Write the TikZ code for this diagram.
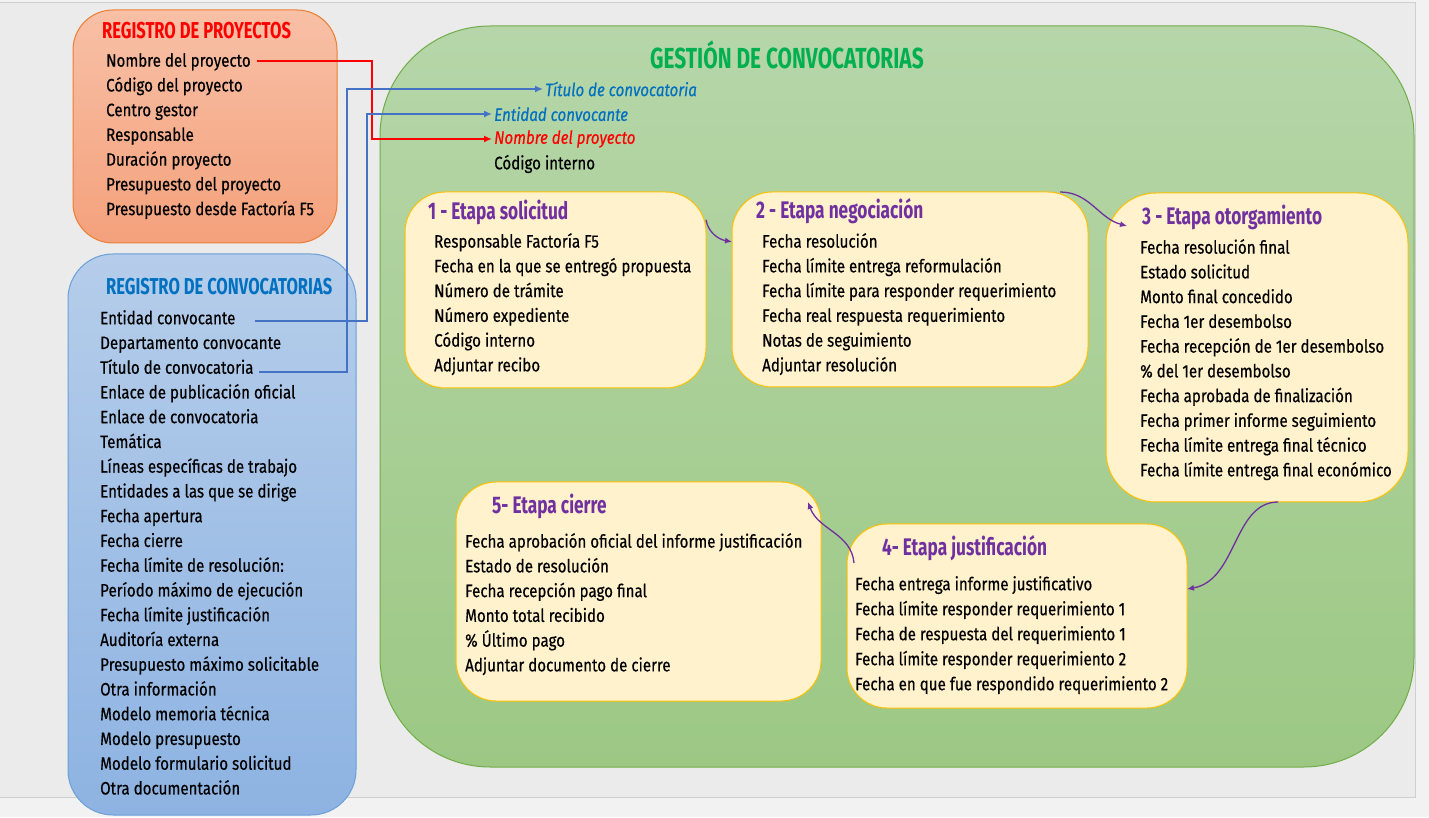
\documentclass[tikz,border=0pt]{standalone}
\usepackage{fontspec}
\setmainfont{Fira Sans}[FakeStretch=0.84, FakeBold=0.5]
\newfontfamily\headfont{Fira Sans}[FakeStretch=0.72]
\usetikzlibrary{arrows.meta, positioning, calc}

\definecolor{pagegray}{HTML}{F2F2F2}
\definecolor{sheetgray}{HTML}{EBEBEB}
\definecolor{edgegray}{HTML}{CFCFCF}
\definecolor{orangetop}{HTML}{F8C0A6}
\definecolor{orangebot}{HTML}{F4A17C}
\definecolor{orangeline}{HTML}{ED7D31}
\definecolor{bluetop}{HTML}{B5CDEA}
\definecolor{bluebot}{HTML}{8EB3E2}
\definecolor{blueline}{HTML}{6A9FD8}
\definecolor{greentop}{HTML}{B6D6A9}
\definecolor{greenbot}{HTML}{9CC884}
\definecolor{greenline}{HTML}{70AD47}
\definecolor{stagefill}{HTML}{FFF2CC}
\definecolor{stageline}{HTML}{FFC000}
\definecolor{purp}{HTML}{7030A0}
\definecolor{titleblue}{HTML}{0070C0}
\definecolor{titlegreen}{HTML}{00B050}
\definecolor{linkblue}{HTML}{4472C4}

\begin{document}
\begin{tikzpicture}[
    x=1pt, y=1pt,
    panel/.style={rectangle, line width=1pt, inner sep=0pt, outer sep=0pt},
    stage/.style={panel, draw=stageline, fill=stagefill, rounded corners=40pt},
    items/.style={align=left, anchor=north west, inner sep=0pt, font=\fontsize{18}{24.75}\selectfont},
    heading/.style={anchor=west, inner sep=0pt, font=\headfont\bfseries\fontsize{23}{26}\selectfont},
    stagetitle/.style={heading, text=purp, font=\headfont\bfseries\fontsize{24}{26}\selectfont},
    field/.style={anchor=west, inner sep=0pt, font=\itshape\fontsize{18}{22}\selectfont},
    link/.style={line width=1.6pt, shorten >=2pt, -{Latex[length=8pt,width=7pt]}},
    flow/.style={draw=purp, line width=1.3pt, -{Latex[length=7pt,width=6pt]}},
    ]

    \useasboundingbox (0,0) rectangle (1429,817);
    \fill[pagegray] (0,0) rectangle (1429,817);
    \fill[sheetgray] (0,20) rectangle (1415,815);
    \draw[edgegray] (0,815) -- (1415,815) -- (1415,20) -- (0,20);

    % Gestion
    \node (G) [panel, draw=greenline, top color=greentop, bottom color=greenbot, rounded corners=110pt,
        minimum width=1034pt, minimum height=741pt] at (897,420.5) {};
    \node (GH) [heading, text=titlegreen, font=\headfont\bfseries\fontsize{29}{31}\selectfont] at (650,762) {GESTIÓN DE CONVOCATORIAS};
    \node (GT) [field, text=titleblue] at (545,728) {Título de convocatoria};
    \node (GE) [field, text=titleblue] at (494,703) {Entidad convocante};
    \node (GN) [field, text=red] at (494,678) {Nombre del proyecto};
    \node (GC) [field, font=\fontsize{18}{22}\selectfont] at (494,653) {Código interno};

    % Stages
    \node (S1) [stage, minimum width=301pt, minimum height=196pt] at (555.5,527) {};
    \node (S1T) [stagetitle] at (428,605) {1 - Etapa solicitud};
    \node (S1L) [items] at (434,584) {Responsable Factoría F5\\ Fecha en la que se entregó propuesta\\ Número de trámite\\ Número expediente\\ Código interno\\ Adjuntar recibo};

    \node (S2) [stage, minimum width=356pt, minimum height=195pt] at (910,527.5) {};
    \node (S2T) [stagetitle] at (756,606) {2 - Etapa negociación};
    \node (S2L) [items] at (762,584) {Fecha resolución\\ Fecha límite entrega reformulación\\ Fecha límite para responder requerimiento\\ Fecha real respuesta requerimiento\\ Notas de seguimiento\\ Adjuntar resolución};

    \node (S3) [stage, rounded corners=50pt, minimum width=302pt, minimum height=309pt] at (1257,469.5) {};
    \node (S3T) [stagetitle] at (1142,600) {3 - Etapa otorgamiento};
    \node (S3L) [items] at (1140,578) {Fecha resolución final\\ Estado solicitud\\ Monto final concedido\\ Fecha 1er desembolso\\ Fecha recepción de 1er desembolso\\ \% del 1er desembolso\\ Fecha aprobada de finalización\\ Fecha primer informe seguimiento\\ Fecha límite entrega final técnico\\ Fecha límite entrega final económico};

    \node (S4) [stage, minimum width=340pt, minimum height=184pt] at (1017,201) {};
    \node (S4T) [stagetitle] at (882,269) {4- Etapa justificación};
    \node (S4L) [items, font=\fontsize{18}{25}\selectfont] at (855,241) {Fecha entrega informe justificativo\\ Fecha límite responder requerimiento 1\\ Fecha de respuesta del requerimiento 1\\ Fecha límite responder requerimiento 2\\ Fecha en que fue respondido requerimiento 2};

    \node (S5) [stage, minimum width=365pt, minimum height=219pt] at (638.5,225.5) {};
    \node (S5T) [stagetitle] at (492,311) {5- Etapa cierre};
    \node (S5L) [items] at (465,284) {Fecha aprobación oficial del informe justificación\\ Estado de resolución\\ Fecha recepción pago final\\ Monto total recibido\\ \% Último pago\\ Adjuntar documento de cierre};

    \draw[flow] (S1.25) to[out=-80, in=170] (S2.165);
    \draw[flow] (S2.33) to[out=0, in=165] ($(S3.west)+(21,121.5)$);
    \draw[flow, shorten <=6pt] (S3.-80) to[out=180, in=10] (S4.9);
    \draw[flow] ($(S4.west)+(7,53)$) to[out=95, in=-70] ($(S5.north east)+(-13,-20)$);

    % Registers
    \node (P) [panel, draw=orangeline, top color=orangetop, bottom color=orangebot, rounded corners=40pt,
        minimum width=264pt, minimum height=233pt] at (205,690.5) {};
    \node (PH) [heading, text=red] at (102,786) {REGISTRO DE PROYECTOS};
    \node (PL) [items] at (106,764) {Nombre del proyecto\\ Código del proyecto\\ Centro gestor\\ Responsable\\ Duración proyecto\\ Presupuesto del proyecto\\ Presupuesto desde Factoría F5};

    \node (C) [panel, draw=blueline, top color=bluetop, bottom color=bluebot, rounded corners=45pt,
        minimum width=288pt, minimum height=561pt] at (212,282.5) {};
    \node (CH) [heading, text=titleblue] at (106,530) {REGISTRO DE CONVOCATORIAS};
    \node (CL) [items] at (100,507) {Entidad convocante\\ Departamento convocante\\ Título de convocatoria\\ Enlace de publicación oficial\\ Enlace de convocatoria\\ Temática\\ Líneas específicas de trabajo\\ Entidades a las que se dirige\\ Fecha apertura\\ Fecha cierre\\ Fecha límite de resolución:\\ Período máximo de ejecución\\ Fecha límite justificación\\ Auditoría externa\\ Presupuesto máximo solicitable\\ Otra información\\ Modelo memoria técnica\\ Modelo presupuesto\\ Modelo formulario solicitud\\ Otra documentación};

    % Links
    \coordinate (PN) at (257,756);
    \coordinate (RB) at (372,756);
    \coordinate (CE) at (255,496);
    \coordinate (EB) at (367,496);
    \coordinate (CT) at (259,445);
    \coordinate (TB) at (347,445);
    \draw[link, red] (PN) -- (RB) |- (GN.west);
    \draw[link, linkblue] (CE) -- (EB) |- (GE.west);
    \draw[link, linkblue] (CT) -- (TB) |- (GT.west);
\end{tikzpicture}
\end{document}
